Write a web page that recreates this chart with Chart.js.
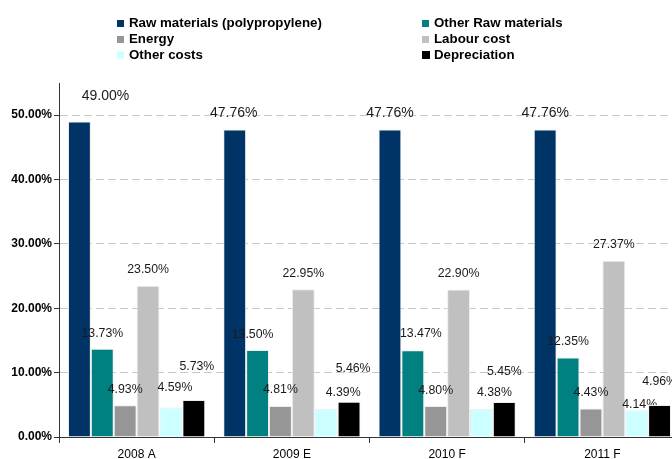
<!DOCTYPE html>
<html>
<head>
<meta charset="utf-8">
<script src="https://cdn.jsdelivr.net/npm/chart.js@4/dist/chart.umd.min.js"></script>
<style>
  html, body { margin: 0; padding: 0; background: #ffffff; overflow: hidden; }
  #wrap { width: 672px; height: 459px; overflow: hidden; position: relative; }
  #c { display: block; }
</style>
</head>
<body>
<div id="wrap"><canvas id="c" width="700" height="459"></canvas></div>
<script>
// ---- data ----
const categories   = ['2008 A', '2009 E', '2010 F', '2011 F'];
const seriesNames  = ['Raw materials (polypropylene)', 'Other Raw materials', 'Energy', 'Labour cost', 'Other costs', 'Depreciation'];
const rawMaterials = [49.00, 47.76, 47.76, 47.76];
const otherRaw     = [13.73, 13.50, 13.47, 12.35];
const energy       = [4.93, 4.81, 4.80, 4.43];
const labour       = [23.50, 22.95, 22.90, 27.37];
const otherCosts   = [4.59, 4.39, 4.38, 4.14];
const depreciation = [5.73, 5.46, 5.45, 4.96];
const yTickValues  = [0, 10, 20, 30, 40, 50];

// ---- styling ----
const FONT = "'Liberation Sans', Arial, sans-serif";
const colors = ['#003366', '#008080', '#969696', '#C0C0C0', '#CCFFFF', '#000000'];
// label nudges relative to each bar: [dx, distance of label centre above bar top]
const labelNudge = [
  [[26, 25], [-1, 16], [0, 16], [0, 16]],
  [[0, 15], [-5, 16], [8, 17], [0, 16]],
  [[0, 16], [0, 16], [0, 16], [0, 16]],
  [[0, 16], [0, 16], [0, 16], [0, 16]],
  [[4, 20], [17, 16], [13, 16], [3, 6]],
  [[3, 34], [4, 33], [0, 30], [0, 23]]
];

const seriesValues = [rawMaterials, otherRaw, energy, labour, otherCosts, depreciation];

const labelPlugin = {
  id: 'barLabels',
  afterDatasetsDraw(chart) {
    const ctx = chart.ctx;
    ctx.save();
    ctx.textAlign = 'center';
    ctx.textBaseline = 'middle';
    ctx.fillStyle = '#1a1a1a';
    chart.data.datasets.forEach((ds, di) => {
      const meta = chart.getDatasetMeta(di);
      ctx.save();
      if (di === 4) {
        // labels of "Other costs" sit behind the following Depreciation bars
        const next = chart.getDatasetMeta(5);
        ctx.beginPath();
        ctx.rect(0, 0, chart.width, chart.height);
        next.data.forEach(el => {
          ctx.rect(el.x - el.width / 2, el.y, el.width, el.base - el.y);
        });
        ctx.clip('evenodd');
      }
      ctx.font = (di === 0 ? '14px ' : '12.3px ') + FONT;
      meta.data.forEach((el, i) => {
        const n = labelNudge[di][i];
        ctx.fillText(ds.data[i].toFixed(2) + '%', el.x + n[0], el.y - n[1]);
      });
      ctx.restore();
    });
    ctx.restore();
  }
};

const legendPlugin = {
  id: 'gridLegend',
  afterDraw(chart) {
    const ctx = chart.ctx;
    const colX = [117, 422];
    const rowY = [23.5, 39.5, 55];
    ctx.save();
    ctx.font = 'bold 13.3px ' + FONT;
    ctx.textBaseline = 'middle';
    ctx.textAlign = 'left';
    chart.data.datasets.forEach((ds, i) => {
      const x = colX[i % 2];
      const y = rowY[Math.floor(i / 2)];
      const s = i === 5 ? 8 : 7;
      ctx.fillStyle = ds.backgroundColor;
      ctx.fillRect(x, y - s / 2, s, s);
      ctx.fillStyle = '#000000';
      ctx.fillText(ds.label, x + 12, y);
    });
    ctx.restore();
  }
};

const datasets = seriesNames.map((name, i) => ({
  label: name,
  data: seriesValues[i],
  backgroundColor: colors[i],
  borderColor: 'rgba(235,235,235,0.9)',
  borderWidth: { left: 1, right: 1, top: 1, bottom: 0 },
  barPercentage: 1.0,
  categoryPercentage: 0.884
}));

new Chart(document.getElementById('c'), {
  type: 'bar',
  data: { labels: categories, datasets },
  options: {
    responsive: false,
    animation: false,
    layout: { padding: { top: 83, right: 20, left: 0, bottom: 0 } },
    plugins: { legend: { display: false }, tooltip: { enabled: false } },
    scales: {
      x: {
        grid: { display: true, drawOnChartArea: false, tickLength: 6, tickColor: '#333333', offset: true },
        border: { display: true, color: '#333333', width: 1 },
        ticks: { color: '#000000', font: { family: FONT, size: 12 }, padding: 4, maxRotation: 0 },
        afterFit(scale) { scale.height = 22; }
      },
      y: {
        min: 0,
        max: 55,
        afterBuildTicks(scale) {
          scale.ticks = yTickValues.map(v => ({ value: v }));
        },
        grid: { color: '#c8c8c8', lineWidth: 1, tickLength: 5, tickColor: '#333333' },
        border: { display: true, color: '#333333', width: 1, dash: [8, 4] },
        ticks: {
          color: '#000000',
          font: { family: FONT, size: 12, weight: 'bold' },
          padding: 2,
          callback: v => Number(v).toFixed(2) + '%'
        },
        afterFit(scale) { scale.width = 59; }
      }
    }
  },
  plugins: [labelPlugin, legendPlugin]
});
</script>
</body>
</html>
